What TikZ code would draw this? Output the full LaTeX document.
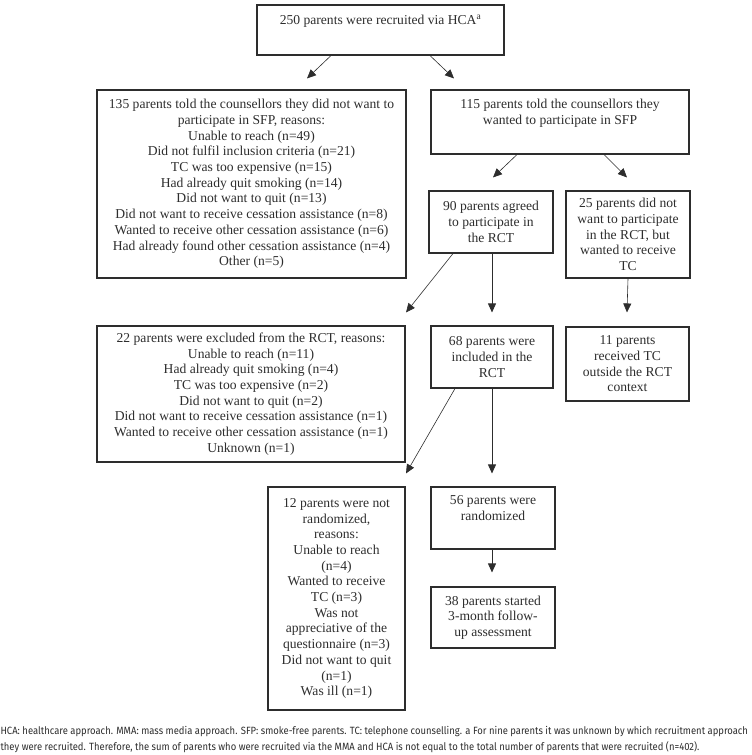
\documentclass[tikz,border=0pt]{standalone}
\usepackage{fontspec}
\setmainfont{Liberation Serif}
\newfontfamily\notefont[FakeStretch=0.9]{Fira Sans}
\usetikzlibrary{arrows.meta}
\definecolor{ink}{RGB}{45,45,45}
\begin{document}
\begin{tikzpicture}[x=1pt, y=-1pt, every node/.style={draw=ink, line width=1.1pt, align=center, text=ink, inner sep=0pt, font=\fontsize{13.6}{15.7}\selectfont}, arr/.style={-{Triangle[length=9pt,width=8pt]}, draw=ink, line width=.6pt}]
          \useasboundingbox (0,0) rectangle (752,755);
          \node [minimum width=247pt, minimum height=50pt] (hca) at (380.5,30) {250 parents were recruited via HCA\textsuperscript{a}\\ \strut};
          \node [minimum width=309pt, minimum height=188pt] (no) at (251.5,184) {135 parents told the counsellors they did not want to\\ participate in SFP, reasons:\\ Unable to reach (n=49)\\ Did not fulfil inclusion criteria (n=21)\\ TC was too expensive (n=15)\\ Had already quit smoking (n=14)\\ Did not want to quit (n=13)\\ Did not want to receive cessation assistance (n=8)\\ Wanted to receive other cessation assistance (n=6)\\ Had already found other cessation assistance (n=4)\\ Other (n=5)};
          \node [minimum width=258pt, minimum height=64pt] (yes) at (560,122) {115 parents told the counsellors they\\ wanted to participate in SFP\\ \strut};
          \node [minimum width=124pt, minimum height=62pt] (agree) at (491,222) {90 parents agreed\\ to participate in\\ the RCT};
          \node [minimum width=124pt, minimum height=87pt] (tc) at (628,234.5) {25 parents did not\\ want to participate\\ in the RCT, but\\ wanted to receive\\ TC};
          \node [minimum width=308pt, minimum height=136pt] (excl) at (251,394) {22 parents were excluded from the RCT, reasons:\\ Unable to reach (n=11)\\ Had already quit smoking (n=4)\\ TC was too expensive (n=2)\\ Did not want to quit (n=2)\\ Did not want to receive cessation assistance (n=1)\\ Wanted to receive other cessation assistance (n=1)\\ Unknown (n=1)};
          \node [minimum width=122pt, minimum height=62pt] (incl) at (492,357) {68 parents were\\ included in the\\ RCT};
          \node [minimum width=123pt, minimum height=74pt] (recv) at (627.5,364) {11 parents\\ received TC\\ outside the RCT\\ context};
          \node [minimum width=137pt, minimum height=223pt] (notr) at (336.5,598.5) {12 parents were not\\ randomized,\\ reasons:\\ Unable to reach\\ (n=4)\\ Wanted to receive\\ TC (n=3)\\ Was not\\ appreciative of the\\ questionnaire (n=3)\\ Did not want to quit\\ (n=1)\\ Was ill (n=1)};
          \node [minimum width=124pt, minimum height=62pt] (rand) at (493,518) {56 parents were\\ randomized\\ \strut};
          \node [minimum width=124pt, minimum height=61pt] (fu) at (493,617.5) {38 parents started\\ 3-month follow-\\ up assessment};
          \node [draw=none, anchor=west, align=left, font=\notefont\fontsize{10.5}{16}\selectfont] (note) at (0,740) {HCA: healthcare approach. MMA: mass media approach. SFP: smoke-free parents. TC: telephone counselling. a For nine parents it was unknown by which recruitment approach\\ they were recruited. Therefore, the sum of parents who were recruited via the MMA and HCA is not equal to the total number of parents that were recruited (n=402).};
          \draw [arr] ([xshift=-49.5pt]hca.south) -- ([xshift=55.5pt,yshift=11pt]no.north);
          \draw [arr] ([xshift=49.5pt]hca.south) -- ([xshift=-106pt,yshift=11pt]yes.north);
          \draw [arr] ([xshift=-43pt]yes.south) -- ([xshift=2pt,yshift=13pt]agree.north);
          \draw [arr] ([xshift=44pt]yes.south) -- ([xshift=-1pt,yshift=13pt]tc.north);
          \draw [arr] ([xshift=-38pt]agree.south) -- ([xshift=155pt,yshift=13pt]excl.north);
          \draw [arr] ([xshift=1pt]agree.south) -- ([yshift=13pt]incl.north);
          \draw [arr] (tc.south) -- ([xshift=-0.5pt,yshift=14pt]recv.north);
          \draw [arr] ([xshift=-37pt]incl.south) -- ([xshift=69.5pt,yshift=13pt]notr.north);
          \draw [arr] (incl.south) -- ([xshift=-1pt,yshift=13pt]rand.north);
          \draw [arr] ([xshift=-1pt]rand.south) -- ([xshift=-1pt,yshift=14pt]fu.north);
        \end{tikzpicture}
\end{document}
